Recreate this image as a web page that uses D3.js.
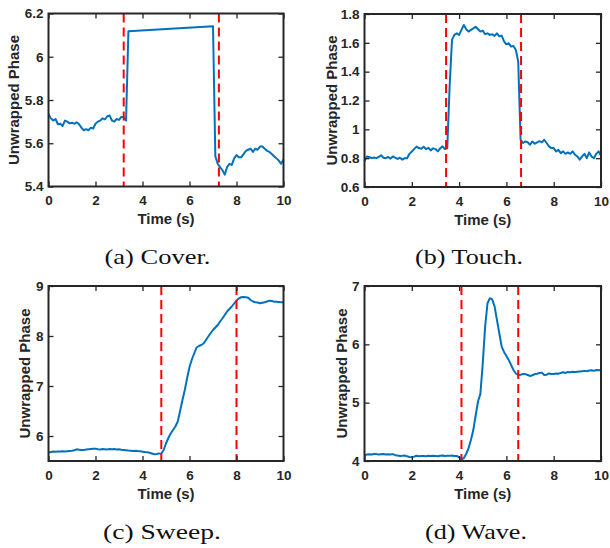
<!DOCTYPE html>
<html><head><meta charset="utf-8">
<script src="https://cdn.jsdelivr.net/npm/d3@7"></script>
<style>
body{margin:0;background:#fff;}
svg{display:block;}
</style></head>
<body>
<svg id="chart" width="610" height="548"></svg>
<script>
// ---------- data ----------
const xTicks = [0, 2, 4, 6, 8, 10];

const coverTimes = [0,0.1,0.2,0.3,0.4,0.5,0.6,0.7,0.8,0.9,1.0,1.1,1.2,1.3,1.4,1.5,1.6,1.7,1.8,1.9,2.0,2.1,2.2,2.3,2.4,2.5,2.6,2.7,2.8,2.9,3.0,3.1,3.2,3.3,3.4,
  7.0,7.1,7.2,7.3,7.4,7.5,7.6,7.7,7.8,7.9,8.0,8.1,8.2,8.3,8.4,8.5,8.6,8.7,8.8,8.9,9.0,9.1,9.2,9.3,9.4,9.5,9.6,9.7,9.8,9.9,10.0];
const coverPhase = [5.735,5.715,5.705,5.712,5.688,5.69,5.68,5.705,5.70,5.692,5.695,5.69,5.697,5.688,5.672,5.66,5.665,5.66,5.672,5.668,5.69,5.70,5.705,5.715,5.71,5.725,5.728,5.705,5.70,5.712,5.708,5.722,5.72,5.705,6.118,
  6.141,5.54,5.505,5.49,5.475,5.455,5.49,5.505,5.50,5.53,5.545,5.535,5.535,5.55,5.565,5.57,5.575,5.56,5.575,5.57,5.585,5.585,5.575,5.565,5.56,5.55,5.54,5.53,5.52,5.505,5.525];
const coverMarks = [3.2, 7.25];
const coverYTicks = [5.4, 5.6, 5.8, 6, 6.2];

const touchPhase = [0.78,0.812,0.808,0.80,0.805,0.80,0.808,0.82,0.803,0.80,0.808,0.797,0.812,0.803,0.795,0.803,0.79,0.80,0.80,0.83,
  0.846,0.863,0.88,0.87,0.865,0.879,0.863,0.872,0.854,0.868,0.863,0.847,0.868,0.882,0.863,0.87,1.30,1.62,1.655,1.666,
  1.655,1.69,1.724,1.694,1.678,1.69,1.70,1.712,1.694,1.678,1.685,1.66,1.666,1.655,1.66,1.648,1.666,1.645,1.65,1.61,
  1.59,1.597,1.574,1.578,1.55,1.47,0.928,0.905,0.916,0.91,0.893,0.916,0.90,0.91,0.918,0.91,0.928,0.905,0.882,0.87,
  0.87,0.847,0.858,0.835,0.847,0.83,0.84,0.83,0.847,0.824,0.812,0.79,0.812,0.83,0.80,0.84,0.812,0.80,0.83,0.847,0.817];
const touchMarks = [3.45, 6.62];
const touchYTicks = [0.6, 0.8, 1, 1.2, 1.4, 1.6, 1.8];

const sweepPhase = [5.667,5.68,5.69,5.685,5.69,5.688,5.695,5.69,5.695,5.70,5.705,5.715,5.733,5.727,5.72,5.718,5.73,5.735,5.74,5.745,
  5.747,5.735,5.73,5.738,5.735,5.73,5.738,5.735,5.738,5.73,5.733,5.725,5.72,5.715,5.71,5.707,5.70,5.703,5.698,5.695,
  5.687,5.68,5.675,5.665,5.65,5.635,5.64,5.652,5.645,5.72,5.85,5.96,6.05,6.12,6.19,6.29,6.50,6.72,6.92,7.16,
  7.38,7.53,7.65,7.77,7.80,7.82,7.85,7.92,7.99,8.06,8.12,8.17,8.22,8.29,8.35,8.42,8.49,8.54,8.59,8.65,
  8.71,8.75,8.775,8.78,8.775,8.765,8.72,8.69,8.675,8.67,8.655,8.665,8.675,8.69,8.707,8.70,8.687,8.685,8.68,8.675,8.673];
const sweepMarks = [4.8, 8.0];
const sweepYTicks = [6, 7, 8, 9];

const wavePhase = [4.10,4.11,4.115,4.11,4.12,4.118,4.11,4.115,4.12,4.11,4.114,4.11,4.118,4.10,4.095,4.086,4.09,4.095,4.08,4.07,
  4.063,4.075,4.09,4.08,4.085,4.086,4.08,4.09,4.085,4.09,4.086,4.08,4.09,4.095,4.085,4.09,4.088,4.095,4.085,4.086,
  4.063,4.03,4.05,4.12,4.22,4.36,4.53,4.78,5.02,5.15,5.67,6.30,6.70,6.79,6.77,6.65,6.42,6.19,5.96,5.87,
  5.80,5.73,5.646,5.56,5.50,5.474,5.48,5.49,5.49,5.475,5.457,5.47,5.49,5.495,5.51,5.515,5.474,5.48,5.50,5.49,
  5.49,5.50,5.495,5.51,5.52,5.51,5.525,5.52,5.53,5.525,5.53,5.535,5.54,5.545,5.54,5.55,5.555,5.545,5.56,5.555,5.56];
const waveMarks = [4.1, 6.5];
const waveYTicks = [4, 5, 6, 7];

const uniformTimes = d3.range(101).map(i => i / 10);

const captions = ["(a) Cover.", "(b) Touch.", "(c) Sweep.", "(d) Wave."];

// ---------- layout ----------
const panels = [
  {t: coverTimes, v: coverPhase, marks: coverMarks, yDom: [5.4, 6.2], yTicks: coverYTicks, box: [48.5, 283.5, 13.5, 186.5], ylabOff: 29.5, cap: captions[0], capX: 157.5, capY: 264, capW: 106},
  {t: uniformTimes, v: touchPhase, marks: touchMarks, yDom: [0.6, 1.8], yTicks: touchYTicks, box: [364.5, 601, 14, 187], ylabOff: 28, cap: captions[1], capX: 469, capY: 264, capW: 108},
  {t: uniformTimes, v: sweepPhase, marks: sweepMarks, yDom: [5.5, 9], yTicks: sweepYTicks, box: [48.5, 283.5, 286, 461], ylabOff: 19, cap: captions[2], capX: 162, capY: 539, capW: 118},
  {t: uniformTimes, v: wavePhase, marks: waveMarks, yDom: [4, 7], yTicks: waveYTicks, box: [364.5, 601, 286, 461], ylabOff: 18, cap: captions[3], capX: 476, capY: 539, capW: 102}
];

const svg = d3.select("#chart");
const axisColor = "#262626";
const sansFont = "'Liberation Sans', Arial, Helvetica, sans-serif";
const serifFont = "'Liberation Serif', 'Times New Roman', serif";

panels.forEach(p => {
  const [L, R, T, B] = p.box;
  const x = d3.scaleLinear().domain([0, 10]).range([L, R]);
  const y = d3.scaleLinear().domain(p.yDom).range([B, T]);
  const g = svg.append("g");

  // data line
  const pts = p.t.map((t, i) => [t, p.v[i]]);
  g.append("path")
    .datum(pts)
    .attr("fill", "none")
    .attr("stroke", "#0072BD")
    .attr("stroke-width", 2)
    .attr("stroke-linejoin", "round")
    .attr("d", d3.line().x(d => x(d[0])).y(d => y(d[1])));

  // red dashed markers
  g.selectAll("line.mark").data(p.marks).enter().append("line")
    .attr("x1", d => x(d)).attr("x2", d => x(d))
    .attr("y1", T).attr("y2", B)
    .attr("stroke", "#FF0000").attr("stroke-width", 2)
    .attr("stroke-dasharray", "9,5");

  // axes (inward ticks, mirrored)
  const tickLen = 5;
  const bottom = d3.axisBottom(x).tickValues(xTicks).tickSize(-tickLen).tickPadding(9).tickFormat(d3.format("d"));
  const top = d3.axisTop(x).tickValues(xTicks).tickSize(-tickLen).tickFormat("");
  const left = d3.axisLeft(y).tickValues(p.yTicks).tickSize(-tickLen).tickPadding(5).tickFormat(d => String(d));
  const right = d3.axisRight(y).tickValues(p.yTicks).tickSize(-tickLen).tickFormat("");

  const styleAxis = sel => {
    sel.select(".domain").remove();
    sel.selectAll(".tick line").attr("stroke", axisColor).attr("stroke-width", 1.3);
    sel.selectAll("text").attr("fill", axisColor).attr("font-family", sansFont).attr("font-weight", "bold").attr("font-size", 13.5);
  };
  g.append("g").attr("transform", `translate(0,${B})`).call(bottom).call(styleAxis);
  g.append("g").attr("transform", `translate(0,${T})`).call(top).call(styleAxis);
  g.append("g").attr("transform", `translate(${L},0)`).call(left).call(styleAxis);
  g.append("g").attr("transform", `translate(${R},0)`).call(right).call(styleAxis);

  // box
  g.append("rect").attr("x", L).attr("y", T).attr("width", R - L).attr("height", B - T)
    .attr("fill", "none").attr("stroke", axisColor).attr("stroke-width", 2);

  // labels
  g.append("text").text("Time (s)")
    .attr("x", (L + R) / 2).attr("y", B + 37.5)
    .attr("text-anchor", "middle")
    .attr("font-family", sansFont).attr("font-weight", "bold").attr("font-size", 15).attr("fill", axisColor);

  g.append("text").text("Unwrapped Phase")
    .attr("transform", `translate(${L - p.ylabOff},${(T + B) / 2}) rotate(-90)`)
    .attr("text-anchor", "middle")
    .attr("font-family", sansFont).attr("font-weight", "bold").attr("font-size", 15).attr("fill", axisColor);

  // caption
  svg.append("text").text(p.cap)
    .attr("x", p.capX).attr("y", p.capY)
    .attr("text-anchor", "middle")
    .attr("textLength", p.capW).attr("lengthAdjust", "spacingAndGlyphs")
    .attr("font-family", serifFont).attr("font-size", 22).attr("fill", "#111");
});
</script>
</body></html>
